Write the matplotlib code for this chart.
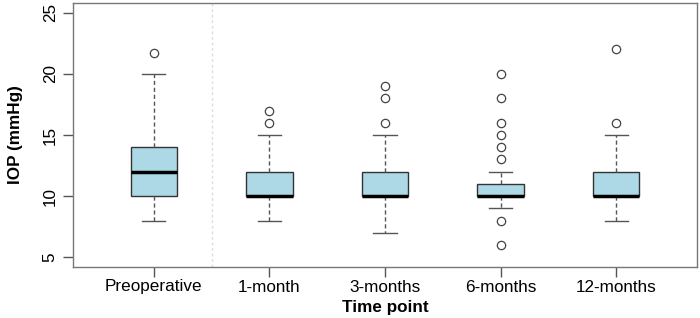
import matplotlib.pyplot as plt

# box statistics
labels = ['Preoperative', '1-month', '3-months', '6-months', '12-months']
medians = [12, 10, 10, 10, 10]
q1 = [10, 10, 10, 10, 10]
q3 = [14, 12, 12, 11, 12]
whislo = [8, 8, 7, 9, 8]
whishi = [20, 15, 15, 12, 15]
outliers = [
    [21.7],
    [16, 17],
    [16, 18, 19],
    [6, 8, 13, 14, 15, 16, 18, 20],
    [16, 22],
]

plt.rcParams['font.family'] = ['Liberation Sans', 'DejaVu Sans']

stats = []
for i in range(len(labels)):
    stats.append({'label': labels[i], 'med': medians[i], 'q1': q1[i], 'q3': q3[i],
                  'whislo': whislo[i], 'whishi': whishi[i], 'fliers': outliers[i]})

fig = plt.figure(figsize=(7, 3.18), dpi=100)
ax = fig.add_axes([73 / 700, 1 - 267 / 318, 624 / 700, 264 / 318])

ax.bxp(stats, positions=range(1, 6), widths=0.4, patch_artist=True,
       boxprops=dict(facecolor='#add8e6', edgecolor='#333333', linewidth=1),
       medianprops=dict(color='black', linewidth=2.5),
       whiskerprops=dict(color='#555555', linestyle=(0, (3, 2)), linewidth=1),
       capprops=dict(color='#555555', linewidth=1),
       flierprops=dict(marker='o', markersize=6, markerfacecolor='none',
                       markeredgecolor='#444444', markeredgewidth=0.9),
       capwidths=0.2)

ax.axvline(1.5, color='#dddddd', linestyle=(0, (2, 2)), linewidth=1)

ax.set_xlim(0.3, 5.7)
ax.set_ylim(4.2, 25.8)
ax.set_yticks([5, 10, 15, 20, 25])
ax.set_xticks(range(1, 6))
ax.set_xticklabels(labels)
for lab in ax.get_yticklabels():
    lab.set_rotation(90)
    lab.set_va('center')
ax.tick_params(axis='both', labelsize=12.3, length=7, color='#555555', width=1)
ax.tick_params(axis='y', pad=4)
ax.tick_params(axis='x', pad=2)
for s in ax.spines.values():
    s.set_color('#777777')
    s.set_linewidth(1)

ax.set_xlabel('Time point', fontsize=12.3, fontweight='bold', labelpad=4)
ax.set_ylabel('IOP (mmHg)', fontsize=12.3, fontweight='bold', labelpad=14)

fig.savefig('out.png', dpi=100)
